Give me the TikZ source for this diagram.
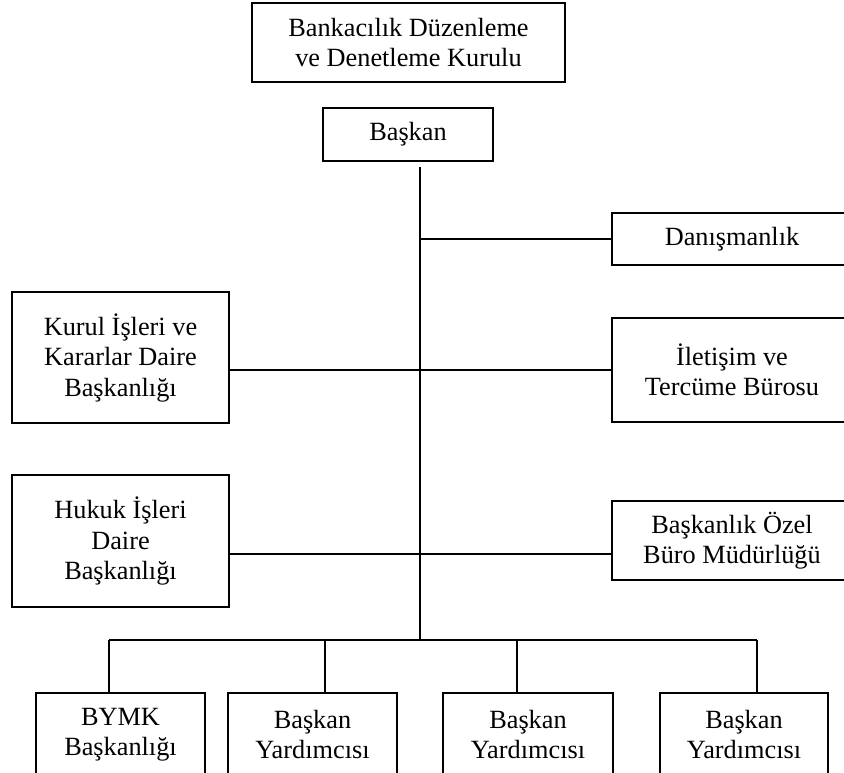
\documentclass[tikz,border=0pt]{standalone}
\usepackage{fontspec}
\setmainfont{Liberation Serif}

\begin{document}
\begin{tikzpicture}[x=1pt,y=-1pt,
    kutu/.style={draw, line width=1.8pt, inner sep=0pt, align=center,
        font=\fontsize{26.3}{30.5}\selectfont},
    cizgi/.style={line width=1.8pt}]

    % sayfa
    \useasboundingbox (0,0) rectangle (844,773);

    % noktaların tanımı
    \coordinate (T0) at (420,167);
    \coordinate (T1) at (420,239);
    \coordinate (T2) at (420,370);
    \coordinate (T3) at (420,554);
    \coordinate (T4) at (420,640);
    \coordinate (D1) at (109,640);
    \coordinate (D2) at (325,640);
    \coordinate (D3) at (517,640);
    \coordinate (D4) at (757,640);

    % kutular
    \node (kurum) [kutu, minimum width=313, minimum height=79] at (408.5,42.5)
        {Bankacılık Düzenleme\\ve Denetleme Kurulu};
    \node (baskan) [kutu, minimum width=170, minimum height=53] at (408,134.5) {Başkan};
    \node (danisma) [kutu, minimum width=240, minimum height=52] at (732,239) {Danışmanlık};
    \node (kurul) [kutu, minimum width=217, minimum height=131] at (120.5,357.5)
        {Kurul İşleri ve\\Kararlar Daire\\Başkanlığı};
    \node (iletisim) [kutu, minimum width=240, minimum height=104] at (732,370)
        {İletişim ve\\Tercüme Bürosu};
    \node (hukuk) [kutu, minimum width=217, minimum height=132] at (120.5,541)
        {Hukuk İşleri\\Daire\\Başkanlığı};
    \node (ozel) [kutu, minimum width=240, minimum height=79] at (732,540.5)
        {Başkanlık Özel\\Büro Müdürlüğü};
    \node (bymk) [kutu, minimum width=169, minimum height=83] at (120.5,734.5)
        {BYMK\\Başkanlığı};
    \node (yard1) [kutu, minimum width=169, minimum height=83] at (312.5,734.5)
        {Başkan\\Yardımcısı};
    \node (yard2) [kutu, minimum width=170, minimum height=83] at (528,734.5)
        {Başkan\\Yardımcısı};
    \node (yard3) [kutu, minimum width=168, minimum height=83] at (744,734.5)
        {Başkan\\Yardımcısı};

    % çizgiler
    \draw [cizgi] (T0) -- (T4);
    \draw [cizgi] (T1) -- (danisma.west |- T1);
    \draw [cizgi] (kurul.east |- T2) -- (iletisim.west |- T2);
    \draw [cizgi] (hukuk.east |- T3) -- (ozel.west |- T3);
    \draw [cizgi] (D1) -- (D4);
    \draw [cizgi] (D1) -- (D1 |- bymk.north);
    \draw [cizgi] (D2) -- (D2 |- yard1.north);
    \draw [cizgi] (D3) -- (D3 |- yard2.north);
    \draw [cizgi] (D4) -- (D4 |- yard3.north);

\end{tikzpicture}
\end{document}
